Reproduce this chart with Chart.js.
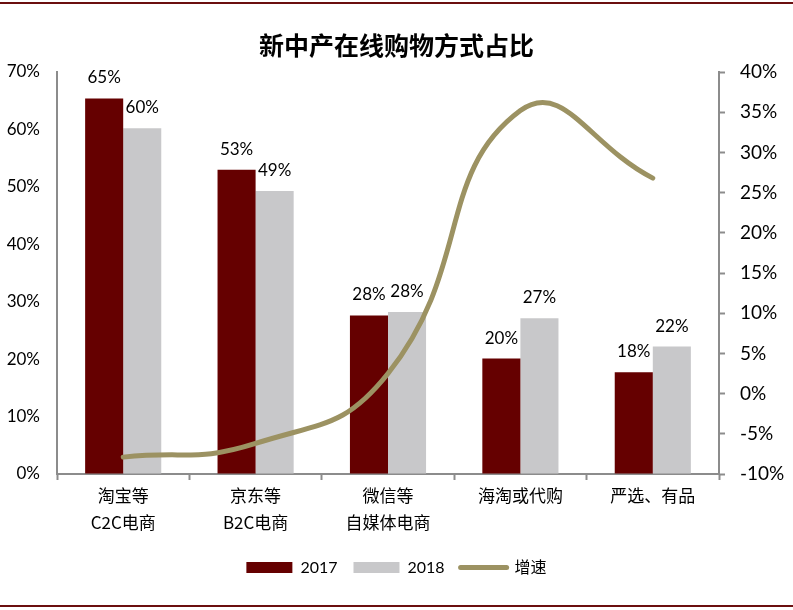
<!DOCTYPE html>
<html>
<head>
<meta charset="utf-8">
<script src="https://cdn.jsdelivr.net/npm/chart.js@4.4.1/dist/chart.umd.min.js"></script>
<style>
  html, body { margin: 0; padding: 0; background: #fff; }
  #wrap { width: 793px; height: 610px; position: relative; }
</style>
</head>
<body>
<div id="wrap"><canvas id="myChart" width="793" height="610"></canvas></div>
<script>
// values
const CATEGORIES = [['淘宝等', 'C2C电商'], ['京东等', 'B2C电商'], ['微信等', '自媒体电商'], ['海淘或代购'], ['严选、有品']];
const DATA_2017 = [65.4, 53.0, 27.6, 20.1, 17.7];
const DATA_2018 = [60.2, 49.3, 28.2, 27.1, 22.2];
const GROWTH = [-7.9, -6.2, 2.5, 35.2, 26.8];
const LEFT_TICKS = { min: 0, max: 70, step: 10 };
const RIGHT_TICKS = { min: -10, max: 40, step: 5 };

const RED = '#650000';
const GREY = '#c8c8ca';
const OLIVE = '#9c9262';
const AXIS = '#8c8c8c';
const NUM_FONT = 'Lato, "Noto Sans CJK SC", sans-serif';
const CJK_FONT = '"Noto Sans CJK SC", sans-serif';

const ctx = document.getElementById('myChart');

// dark red rules at the top and bottom of the picture
const frameLines = {
  id: 'frameLines',
  beforeDraw(chart) {
    const c = chart.ctx;
    c.save();
    c.fillStyle = '#fff';
    c.fillRect(0, 0, chart.width, chart.height);
    c.fillStyle = '#6b0f0f';
    c.fillRect(0, 2, chart.width, 2);
    c.fillRect(0, 605, chart.width, 2);
    c.restore();
  }
};

// percent labels above the bars
const barLabels = {
  id: 'barLabels',
  afterDatasetsDraw(chart) {
    const c = chart.ctx;
    c.save();
    c.font = '17px ' + NUM_FONT;
    c.fillStyle = '#000';
    c.textAlign = 'center';
    c.textBaseline = 'alphabetic';
    chart.data.datasets.forEach(function (ds, i) {
      if (ds.type === 'line') return;
      const meta = chart.getDatasetMeta(i);
      meta.data.forEach(function (bar, j) {
        c.fillText(Math.round(ds.data[j]) + '%', bar.x, bar.y - 15);
      });
    });
    c.restore();
  }
};

const myChart = new Chart(ctx, {
  data: {
    labels: CATEGORIES,
    datasets: [
      {
        type: 'bar',
        label: '2017',
        data: DATA_2017,
        backgroundColor: RED,
        yAxisID: 'y',
        order: 1,
        barPercentage: 1,
        categoryPercentage: 0.575
      },
      {
        type: 'bar',
        label: '2018',
        data: DATA_2018,
        backgroundColor: GREY,
        yAxisID: 'y',
        order: 1,
        barPercentage: 1,
        categoryPercentage: 0.575
      },
      {
        type: 'line',
        label: '增速',
        data: GROWTH,
        borderColor: OLIVE,
        backgroundColor: OLIVE,
        borderWidth: 5,
        borderCapStyle: 'round',
        pointRadius: 0,
        tension: 0.48,
        yAxisID: 'y1',
        order: 0
      }
    ]
  },
  options: {
    responsive: false,
    animation: false,
    layout: { padding: { top: 0, left: 0, right: 0, bottom: 24.5 } },
    plugins: {
      tooltip: { enabled: false },
      title: {
        display: true,
        text: '新中产在线购物方式占比',
        color: '#000',
        font: { family: CJK_FONT, size: 25, weight: 'bold', lineHeight: 1.2 },
        padding: { top: 30, bottom: 12 }
      },
      legend: {
        position: 'bottom',
        labels: {
          usePointStyle: true,
          pointStyleWidth: 46,
          boxHeight: 11,
          padding: 16,
          color: '#000',
          font: { family: NUM_FONT, size: 16 },
          generateLabels(chart) {
            return chart.data.datasets.map(function (ds, i) {
              const isLine = ds.type === 'line';
              return {
                text: ds.label,
                fillStyle: isLine ? ds.borderColor : ds.backgroundColor,
                strokeStyle: isLine ? ds.borderColor : ds.backgroundColor,
                lineWidth: isLine ? 5 : 0,
                lineCap: 'round',
                pointStyle: isLine ? 'line' : 'rect',
                fontColor: '#000',
                datasetIndex: i
              };
            });
          }
        }
      }
    },
    scales: {
      x: {
        grid: {
          offset: true,
          drawOnChartArea: false,
          drawTicks: true,
          tickLength: 6,
          tickWidth: 2,
          color: AXIS
        },
        border: { color: AXIS, width: 2 },
        ticks: {
          color: '#000',
          padding: 1.5,
          maxRotation: 0,
          autoSkip: false,
          font: { family: CJK_FONT, size: 17, lineHeight: 1.6 }
        },
        afterFit(scale) { scale.height = 69.5; }
      },
      y: {
        position: 'left',
        min: LEFT_TICKS.min,
        max: LEFT_TICKS.max,
        grid: { drawOnChartArea: false, drawTicks: false },
        border: { color: AXIS, width: 2 },
        ticks: {
          stepSize: LEFT_TICKS.step,
          padding: 17,
          color: '#000',
          font: { family: NUM_FONT, size: 17 },
          callback: function (v) { return v + '%'; }
        },
        afterFit(scale) { scale.width = 57; }
      },
      y1: {
        position: 'right',
        min: RIGHT_TICKS.min,
        max: RIGHT_TICKS.max,
        grid: {
          drawOnChartArea: false,
          drawTicks: true,
          tickLength: 6,
          tickWidth: 2,
          color: AXIS
        },
        border: { color: AXIS, width: 2 },
        ticks: {
          stepSize: RIGHT_TICKS.step,
          padding: 15,
          color: '#000',
          font: { family: NUM_FONT, size: 19 },
          callback: function (v) { return v + '%'; }
        },
        afterFit(scale) { scale.width = 74; }
      }
    }
  },
  plugins: [frameLines, barLabels]
});
</script>
</body>
</html>
